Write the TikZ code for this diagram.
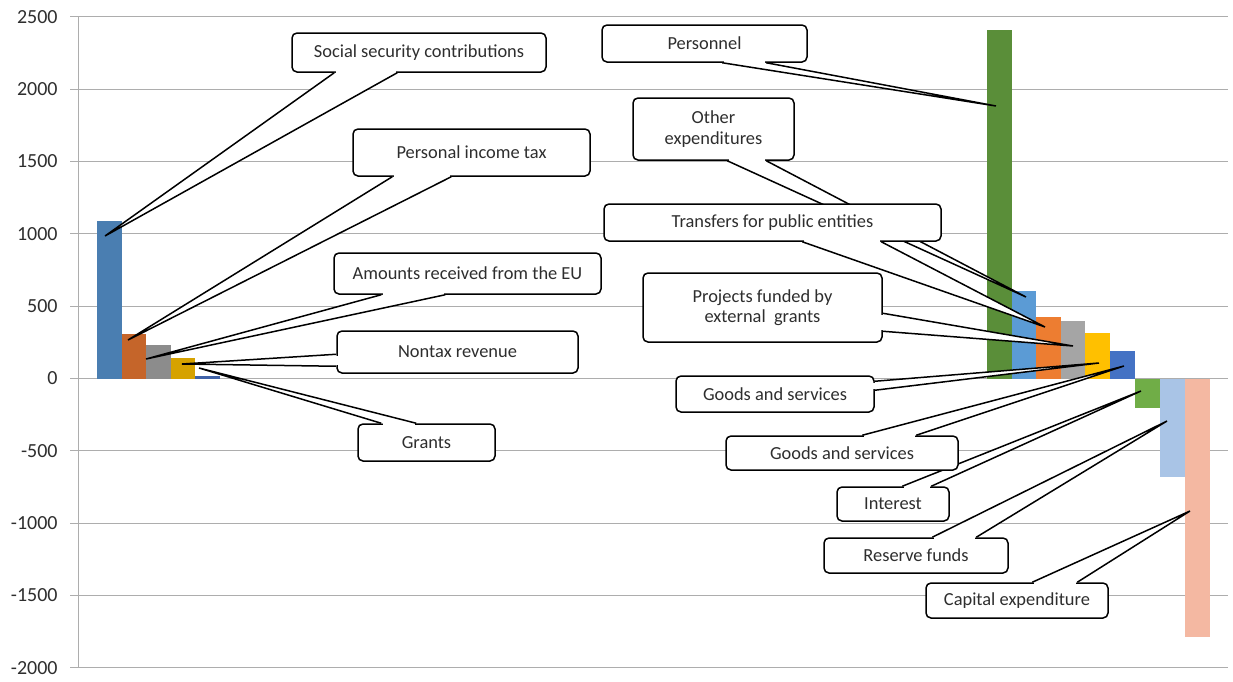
\documentclass[tikz,border=0pt]{standalone}
\usepackage{fontspec}
\setmainfont{Carlito}
\usetikzlibrary{calc}

\definecolor{gridgray}{HTML}{ADADAD}
\definecolor{labelgray}{HTML}{2E2E2E}
\definecolor{lblue}{HTML}{4A7EB1}
\definecolor{lorange}{HTML}{C5652A}
\definecolor{lgray}{HTML}{8C8C8C}
\definecolor{lgold}{HTML}{D6A200}
\definecolor{ldblue}{HTML}{3F62A8}
\definecolor{rgreen}{HTML}{5A8E39}
\definecolor{rsky}{HTML}{5B9BD5}
\definecolor{rorange}{HTML}{ED7D31}
\definecolor{rgray}{HTML}{A5A5A5}
\definecolor{ryellow}{HTML}{FFC000}
\definecolor{rblue}{HTML}{4472C4}
\definecolor{rlgreen}{HTML}{70AD47}
\definecolor{rpale}{HTML}{A9C4E6}
\definecolor{rsalmon}{HTML}{F4B8A2}

% pointer of a callout: anchor, offset a, offset b, tip
\newcommand{\callptr}[4]{%
  \coordinate (pa) at ($(#1)+(#2)$);
  \coordinate (pb) at ($(#1)+(#3)$);
  \fill[white] (pa) -- (#4) -- (pb) -- cycle;
  \fill[white] ($(pa)+(1.5,1.5)$) rectangle ($(pb)+(-1.5,-1.5)$);
  \draw[pointer] (pa) -- (#4) -- (pb);}

\begin{document}
\begin{tikzpicture}[x=0.5pt,y=-0.5pt,
                    font=\fontsize{9.2}{10.2}\selectfont,
                    callout/.style={draw=black,fill=white,line width=0.75pt,
                      rounded corners=2.5pt,inner sep=0pt,align=center,
                      text=labelgray},
                    pointer/.style={line width=0.75pt,line join=miter}]
   \useasboundingbox (0,0) rectangle (1233,681);

   \foreach \v in {2500,2000,...,-2000}{
     \draw[gridgray,line width=0.5pt] (70,{378.5-\v*0.14467}) -- (1228,{378.5-\v*0.14467});
     \node[anchor=east,inner sep=0pt,text=labelgray,font=\fontsize{10}{11}\selectfont]
        at (58,{378.5-\v*0.14467}) {\v};
   }
   \draw[gridgray,line width=0.5pt] (78,16.8) -- (78,667.8);

   \foreach \xa/\val/\col in {97/1090/lblue,121.5/310/lorange,146/232/lgray,
       170.5/143/lgold,195/15/ldblue,
       987/2410/rgreen,1011.5/608/rsky,1036/428/rorange,1060.5/400/rgray,
       1085/318/ryellow,1110/190/rblue,1135/-205/rlgreen,1160/-680/rpale,
       1185/-1790/rsalmon}
     \fill[\col] (\xa,378.5) rectangle ++(24.5,{-\val*0.14467});

   \coordinate (ssc-tip)  at (105,236);
   \coordinate (pit-tip)  at (128,340);
   \coordinate (eu-tip)   at (146,359);
   \coordinate (ntr-tip)  at (182,364);
   \coordinate (grt-tip)  at (199,368);
   \coordinate (pers-tip) at (996,106);
   \coordinate (othx-tip) at (1026,297);
   \coordinate (trf-tip)  at (1045,327);
   \coordinate (proj-tip) at (1073,346);
   \coordinate (gsa-tip)  at (1099,363);
   \coordinate (gsb-tip)  at (1124,366);
   \coordinate (intr-tip) at (1141,391);
   \coordinate (rsv-tip)  at (1167,421);
   \coordinate (cap-tip)  at (1190,511);

   \node[callout,minimum width=127pt,minimum height=19.5pt] (ssc) at (419,52.5)
        {Social security contributions};
   \callptr{ssc.south west}{43,0}{106,0}{ssc-tip}
   \node[callout,minimum width=118.5pt,minimum height=23.5pt] (pit) at (471.5,152.5)
        {Personal income tax};
   \callptr{pit.south west}{40,0}{99,0}{pit-tip}
   \node[callout,minimum width=133.5pt,minimum height=20.5pt] (eu) at (467.5,273.5)
        {Amounts received from the EU};
   \callptr{eu.south west}{48,0}{112,0}{eu-tip}
   \node[callout,minimum width=120.5pt,minimum height=21pt] (ntr) at (457.5,352)
        {Nontax revenue};
   \callptr{ntr.north west}{0,24}{0,36}{ntr-tip}
   \node[callout,minimum width=68.5pt,minimum height=18.5pt] (grt) at (426.5,442.5)
        {Grants};
   \callptr{grt.north west}{24,0}{59,0}{grt-tip}

   \node[callout,minimum width=102.5pt,minimum height=18.5pt] (pers) at (704.5,43.5)
        {Personnel};
   \callptr{pers.south west}{121,0}{165,0}{pers-tip}
   \node[callout,minimum width=80.5pt,minimum height=31pt] (othx) at (713.5,129)
        {Other\\expenditures};
   \callptr{othx.south west}{95,0}{134,0}{othx-tip}
   \node[callout,minimum width=168.5pt,minimum height=18.5pt] (trf) at (772.5,222.5)
        {Transfers for public entities};
   \callptr{trf.south west}{199,0}{278,0}{trf-tip}
   \node[callout,minimum width=119.5pt,minimum height=34.5pt] (proj) at (762.5,307.5)
        {Projects funded by\\external\ \ grants};
   \callptr{proj.north east}{0,41}{0,59}{proj-tip}
   \node[callout,minimum width=99pt,minimum height=18pt] (gsa) at (775,394)
        {Goods and services};
   \callptr{gsa.north east}{0,6}{0,15}{gsa-tip}
   \node[callout,minimum width=56pt,minimum height=17pt] (intr) at (893,504)
        {Interest};
   \callptr{intr.north west}{66,0}{95,0}{intr-tip}
   \node[callout,minimum width=116pt,minimum height=17pt] (gsb) at (842,453)
        {Goods and services};
   \callptr{gsb.north west}{137,0}{191,0}{gsb-tip}
   \node[callout,minimum width=92pt,minimum height=17.5pt] (rsv) at (916,555.5)
        {Reserve funds};
   \callptr{rsv.north west}{109,0}{153,0}{rsv-tip}
   \node[callout,minimum width=91pt,minimum height=17.5pt] (cap) at (1017,600.5)
        {Capital expenditure};
   \callptr{cap.north west}{107,0}{152,0}{cap-tip}
\end{tikzpicture}
\end{document}
